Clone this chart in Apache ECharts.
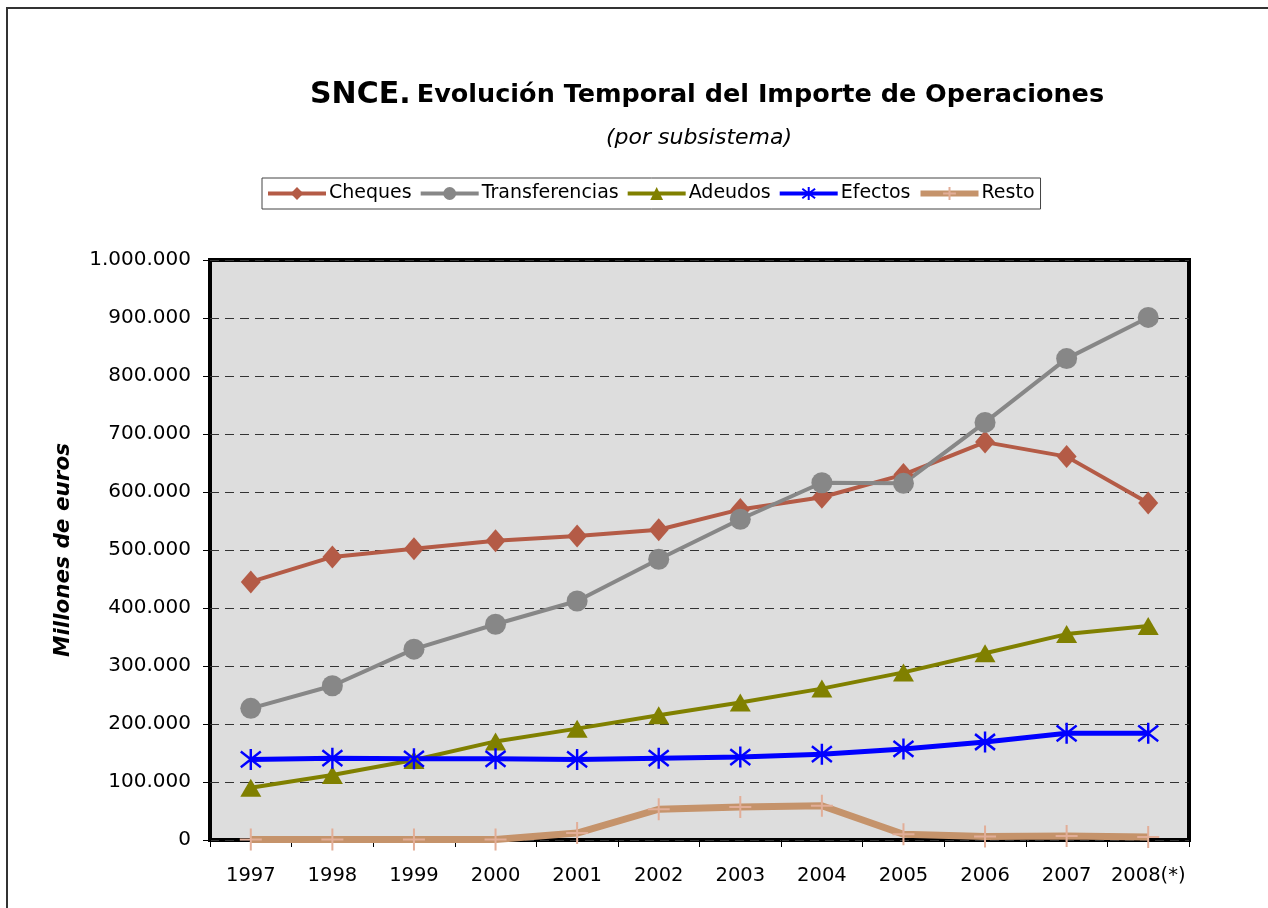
<!DOCTYPE html>
<html>
<head>
<meta charset="utf-8">
<script src="https://cdn.jsdelivr.net/npm/echarts@6/dist/echarts.min.js"></script>
<style>
  html, body { margin: 0; padding: 0; background: #fff; }
  #chart { width: 1268px; height: 908px; }
</style>
</head>
<body>
<div id="chart"></div>
<script>
// años (eje x)
const years = ['1997', '1998', '1999', '2000', '2001', '2002', '2003', '2004', '2005', '2006', '2007', '2008(*)']

// importes en millones de euros
const cheques = [445000, 488000, 502000, 516000, 524000, 535000, 570000, 591000, 630000, 686000, 661000, 581000]
const transferencias = [227000, 266000, 329000, 372000, 412000, 484000, 553000, 616000, 615000, 720000, 830000, 901000]
const adeudos = [90000, 112000, 138000, 170000, 192000, 215000, 237000, 261000, 289000, 322000, 355000, 369000]
const efectos = [139000, 141000, 140000, 140000, 139000, 141000, 143000, 148000, 157000, 169000, 184000, 184000]
const resto = [1000, 1000, 1000, 1000, 12000, 53000, 57000, 59000, 10000, 6000, 7000, 5000]

// marcas del eje y
const yMin = 0
const yMax = 1000000
const yStep = 100000

const chart = echarts.init(document.getElementById('chart'))

const fontFamily = '"DejaVu Sans", Verdana, sans-serif'

const asterisk = 'path://M5,0L5,12M0,1.5L10,10.5M10,1.5L0,10.5'
const plus = 'path://M5,0L5,10M0,5L10,5'

// separador de miles con punto
const fmt = v => String(v).replace(/\B(?=(\d{3})+(?!\d))/g, '.')

const option = {
  backgroundColor: '#fff',
  textStyle: { fontFamily: fontFamily },
  title: [
    {
      left: 702,
      top: 75,
      textAlign: 'center',
      text: '{a|SNCE.} {b|Evolución Temporal del Importe de Operaciones}',
      textStyle: {
        rich: {
          a: { fontSize: 30, fontWeight: 'bold', color: '#000', fontFamily: fontFamily },
          b: { fontSize: 25.5, fontWeight: 'bold', color: '#000', fontFamily: fontFamily }
        }
      }
    },
    {
      left: 694,
      top: 122,
      textAlign: 'center',
      text: '(por subsistema)',
      textStyle: { fontSize: 22, fontStyle: 'italic', fontWeight: 'normal', color: '#000', fontFamily: fontFamily }
    }
  ],
  legend: {
    left: 262,
    top: 178,
    padding: [6, 6, 6, 4],
    itemWidth: 58,
    itemHeight: 16,
    itemGap: 7,
    borderColor: '#444',
    borderWidth: 1,
    backgroundColor: '#fff',
    textStyle: { fontSize: 19, color: '#000', padding: [0, 0, 0, -2] },
    data: [
      { name: 'Cheques', lineStyle: { width: 4 } },
      { name: 'Transferencias', lineStyle: { width: 4 } },
      { name: 'Adeudos', lineStyle: { width: 4 } },
      { name: 'Efectos', lineStyle: { width: 4 } },
      { name: 'Resto', lineStyle: { width: 6 } }
    ]
  },
  grid: {
    left: 210,
    top: 260,
    right: 79,
    bottom: 68,
    show: true,
    backgroundColor: '#DDDDDD',
    borderColor: '#000',
    borderWidth: 4,
    containLabel: false
  },
  xAxis: {
    type: 'category',
    data: years,
    boundaryGap: true,
    axisLine: { show: false },
    axisTick: { show: true, length: 7, lineStyle: { color: '#000', width: 1 } },
    axisLabel: { fontSize: 19.5, color: '#000', margin: 26, interval: 0 },
    splitLine: { show: false }
  },
  yAxis: {
    type: 'value',
    min: yMin,
    max: yMax,
    interval: yStep,
    name: 'Millones de euros',
    nameLocation: 'middle',
    nameGap: 136,
    nameTextStyle: { fontSize: 21.5, fontWeight: 'bold', fontStyle: 'italic', color: '#000' },
    axisLine: { show: false },
    axisTick: { show: true, length: 7, lineStyle: { color: '#000', width: 1 } },
    axisLabel: { fontSize: 20, color: '#000', margin: 19, formatter: fmt },
    splitLine: { show: true, lineStyle: { color: '#333', type: [9, 6], width: 1.2 } }
  },
  series: [
    {
      name: 'Cheques',
      type: 'line',
      data: cheques,
      symbol: 'diamond',
      symbolSize: [20, 23],
      lineStyle: { color: '#B45B46', width: 4 },
      itemStyle: { color: '#B45B46', borderWidth: 0 }
    },
    {
      name: 'Transferencias',
      type: 'line',
      data: transferencias,
      symbol: 'circle',
      symbolSize: 21,
      lineStyle: { color: '#878787', width: 4 },
      itemStyle: { color: '#878787', borderWidth: 0 }
    },
    {
      name: 'Adeudos',
      type: 'line',
      data: adeudos,
      symbol: 'triangle',
      symbolSize: [21, 18],
      lineStyle: { color: '#808000', width: 4 },
      itemStyle: { color: '#808000', borderWidth: 0 }
    },
    {
      name: 'Efectos',
      type: 'line',
      data: efectos,
      symbol: asterisk,
      symbolSize: [20, 21],
      lineStyle: { color: '#0000FF', width: 5 },
      itemStyle: { color: '#0000FF', borderColor: '#0000FF', borderWidth: 2.5 }
    },
    {
      name: 'Resto',
      type: 'line',
      data: resto,
      symbol: plus,
      symbolSize: 22,
      lineStyle: { color: '#C5936B', width: 7 },
      itemStyle: { color: '#E2AE98', borderColor: '#E2AE98', borderWidth: 2 }
    }
  ],
  graphic: [
    {
      type: 'rect',
      shape: { x: 7, y: 8, width: 1300, height: 1000 },
      style: { fill: 'none', stroke: '#333', lineWidth: 2 },
      silent: true,
      z: -1
    }
  ]
}

chart.setOption(option)
</script>
</body>
</html>
